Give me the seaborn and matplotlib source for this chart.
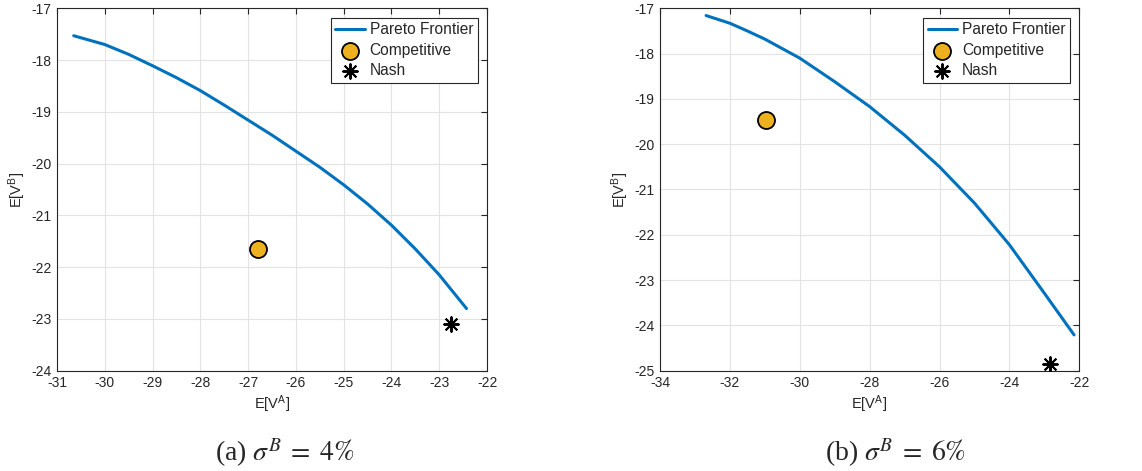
import numpy as np
import pandas as pd
import matplotlib
matplotlib.use("Agg")
import matplotlib.pyplot as plt
import seaborn as sns

# Pareto frontier, sigma^B = 4%
front_a_x = [-30.65, -30.0, -29.5, -29.0, -28.5, -28.0, -27.5, -27.0, -26.5, -26.0,
             -25.5, -25.0, -24.5, -24.0, -23.5, -23.0, -22.43]
front_a_y = [-17.53, -17.70, -17.89, -18.11, -18.34, -18.59, -18.87, -19.16, -19.45, -19.76,
             -20.07, -20.41, -20.78, -21.19, -21.65, -22.15, -22.80]
comp_a = (-26.79, -21.65)
nash_a = (-22.75, -23.09)

# Pareto frontier, sigma^B = 6%
front_b_x = [-32.68, -32.0, -31.5, -31.0, -30.0, -29.0, -28.0, -27.0, -26.0, -25.0, -24.0, -23.0, -22.15]
front_b_y = [-17.16, -17.33, -17.50, -17.68, -18.10, -18.62, -19.17, -19.80, -20.50, -21.30, -22.22, -23.29, -24.21]
comp_b = (-30.97, -19.47)
nash_b = (-22.83, -24.85)

captions = [r"(a) $\sigma^B\;=\;4\%$", r"(b) $\sigma^B\;=\;6\%$"]

sns.set_style("whitegrid")
plt.rcParams["font.family"] = ["Liberation Sans", "DejaVu Sans"]
plt.rcParams["mathtext.fontset"] = "stix"

BLUE = "#0072BD"
GOLD = "#EDB120"
AXC = "#262626"

fig = plt.figure(figsize=(11.42, 4.71), dpi=100)
ax_a = fig.add_axes([0.0499, 0.2130, 0.4265 - 0.0499, 0.9824 - 0.2130])
ax_b = fig.add_axes([0.5779, 0.2130, 0.9451 - 0.5779, 0.9824 - 0.2130])

panels = [
    (ax_a, front_a_x, front_a_y, comp_a, nash_a, (-31, -22), np.arange(-31, -21, 1), (-24, -17), np.arange(-24, -16, 1)),
    (ax_b, front_b_x, front_b_y, comp_b, nash_b, (-34, -22), np.arange(-34, -21, 2), (-25, -17), np.arange(-25, -16, 1)),
]

for ax, fx, fy, comp, nash, xlim, xt, ylim, yt in panels:
    df = pd.DataFrame({"x": fx, "y": fy})
    sns.lineplot(data=df, x="x", y="y", ax=ax, color=BLUE, lw=2.2,
                 sort=False, label="Pareto Frontier", zorder=3)
    sns.scatterplot(x=[comp[0]], y=[comp[1]], ax=ax, s=150, color=GOLD,
                    edgecolor="black", linewidth=1.3, label="Competitive", zorder=4)
    sns.scatterplot(x=[nash[0]], y=[nash[1]], ax=ax, s=110, marker=(8, 2, 0),
                    color="black", edgecolor="black", linewidth=1.4, label="Nash", zorder=4)
    ax.set_xlim(*xlim)
    ax.set_ylim(*ylim)
    ax.set_xticks(xt)
    ax.set_yticks(yt)
    ax.set_xticklabels([f"{v:d}" for v in xt])
    ax.set_yticklabels([f"{v:d}" for v in yt])
    ax.grid(True, color="#e3e3e3", lw=0.8)
    ax.set_axisbelow(True)
    for sp in ax.spines.values():
        sp.set_color(AXC)
        sp.set_linewidth(0.8)
        sp.set_visible(True)
    ax.tick_params(direction="in", length=4, width=0.8, color=AXC,
                   top=True, right=True, labelsize=10, labelcolor=AXC, pad=4)
    ax.set_xlabel(r"E[V$^{\mathregular{A}}$]", fontsize=10.5, color=AXC, labelpad=2)
    ax.set_ylabel(r"E[V$^{\mathregular{B}}$]", fontsize=10.5, color=AXC, labelpad=2)
    leg = ax.legend(loc="upper right", frameon=True, fancybox=False, fontsize=11.2,
                    borderpad=0.3, labelspacing=0.35, handlelength=1.9,
                    handletextpad=0.3, borderaxespad=0.6)
    leg.get_frame().set_edgecolor(AXC)
    leg.get_frame().set_linewidth(0.8)
    leg.get_frame().set_alpha(1)

fig.text(0.249, 0.038, captions[0], ha="center", va="center", fontsize=20,
         family="Liberation Serif", math_fontfamily="stix")
fig.text(0.784, 0.038, captions[1], ha="center", va="center", fontsize=20,
         family="Liberation Serif", math_fontfamily="stix")

fig.savefig("out.png", dpi=100)
